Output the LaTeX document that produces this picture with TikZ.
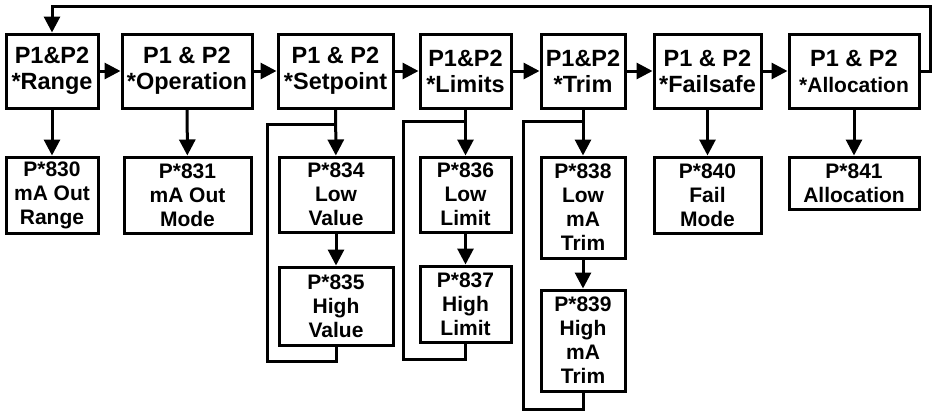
\documentclass[tikz,border=0pt]{standalone}
\usepackage{fontspec}
\setmainfont{Liberation Sans}
\usepackage{tikz}
\usetikzlibrary{arrows.meta, positioning}

\begin{document}
\begin{tikzpicture}[
    x=1pt, y=-1pt,
    menu/.style={rectangle, draw=black, line width=3pt, inner sep=0pt, align=center,
                 minimum height=74pt, font=\fontsize{23.5}{26}\selectfont\bfseries},
    param/.style={rectangle, draw=black, line width=3pt, inner sep=0pt, align=center,
                  font=\fontsize{21}{24}\selectfont\bfseries},
    arr/.style={-{Triangle[length=16pt,width=16pt]}, line width=3pt},
    ln/.style={line width=3pt},
]
\useasboundingbox (0,0) rectangle (935,413);

% --- top row: menu entries ---
\node[menu, minimum width=92pt]  (rng) at (52,71)    {P1\&P2\\*Range};
\node[menu, minimum width=130pt] (opr) at (187,71)   {P1 \& P2\\*Operation};
\node[menu, minimum width=115pt] (stp) at (335.5,71) {P1 \& P2\\*Setpoint};
\node[menu, minimum width=91pt]  (lim) at (465.5,71) {P1\&P2\\*Limits};
\node[menu, minimum width=84pt]  (trm) at (583,71)   {P1\&P2\\*Trim};
\node[menu, minimum width=107pt] (fsf) at (707.5,71) {P1 \& P2\\*Failsafe};
\node[menu, minimum width=130pt] (alc) at (854,71)   {P1 \& P2\\{\fontsize{21}{26}\selectfont *Allocation}};

% --- parameter boxes ---
\node[param, minimum width=92pt,  minimum height=76pt]  (p830) at (52,195)     {P*830\\mA Out\\Range};
\node[param, minimum width=127pt, minimum height=76pt]  (p831) at (187.5,195)  {P*831\\mA Out\\Mode};
\node[param, minimum width=114pt, minimum height=75pt]  (p834) at (336,194.5)  {P*834\\Low\\Value};
\node[param, minimum width=114pt, minimum height=78pt]  (p835) at (336,306)    {P*835\\High\\Value};
\node[param, minimum width=91pt,  minimum height=75pt]  (p836) at (465.5,194.5){P*836\\Low\\Limit};
\node[param, minimum width=91pt,  minimum height=76pt]  (p837) at (465.5,304)  {P*837\\High\\Limit};
\node[param, minimum width=84pt,  minimum height=101pt] (p838) at (583,207.5)  {P*838\\Low\\mA\\Trim};
\node[param, minimum width=84pt,  minimum height=101pt] (p839) at (583,340.5)  {P*839\\High\\mA\\Trim};
\node[param, minimum width=107pt, minimum height=76pt]  (p840) at (707.5,195)  {P*840\\Fail\\Mode};
\node[param, minimum width=130pt, minimum height=52pt]  (p841) at (854,183)    {P*841\\Allocation};

% --- loop corners ---
\coordinate (stpj) at (336,124);
\coordinate (stpl) at (267,361);
\coordinate (limj) at (466,121);
\coordinate (liml) at (403,359);
\coordinate (trmj) at (582,121);
\coordinate (trml) at (523,409);
\coordinate (ret)  at (930,6);

% --- arrows along the top row ---
\draw[arr] (rng) -- (opr);
\draw[arr] (opr) -- (stp);
\draw[arr] (stp) -- (lim);
\draw[arr] (lim) -- (trm);
\draw[arr] (trm) -- (fsf);
\draw[arr] (fsf) -- (alc);
\draw[arr] (alc.east) -| (ret) -| (rng.north);

% --- arrows down ---
\draw[arr] (rng) -- (p830);
\draw[arr] (opr) -- (p831);
\draw[arr] (stp) -- (p834);
\draw[arr] (p834) -- (p835);
\draw[arr] (lim) -- (p836);
\draw[arr] (p836) -- (p837);
\draw[arr] (trm) -- (p838);
\draw[arr] (p838) -- (p839);
\draw[arr] (fsf) -- (p840);
\draw[arr] (alc) -- (p841);

% --- return loops ---
\draw[ln] (p835.south) |- (stpl) |- (stpj);
\draw[ln] (p837.south) |- (liml) |- (limj);
\draw[ln] (p839.south) |- (trml) |- (trmj);
\end{tikzpicture}
\end{document}
